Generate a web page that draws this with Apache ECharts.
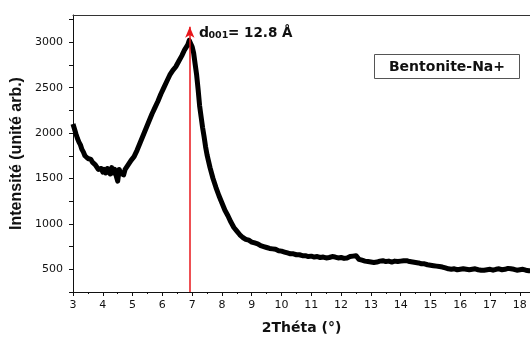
<!DOCTYPE html>
<html>
<head>
<meta charset="utf-8">
<script src="https://cdn.jsdelivr.net/npm/echarts@6/dist/echarts.min.js"></script>
<style>html,body{margin:0;padding:0;background:#fff}#c{width:530px;height:340px}</style>
</head>
<body>
<div id="c"></div>
<script>
const theta = [3.00,3.05,3.10,3.15,3.20,3.25,3.30,3.35,3.40,3.45,3.50,3.55,3.60,3.65,3.70,3.75,3.80,3.85,3.90,3.95,
4.00,4.05,4.10,4.15,4.20,4.25,4.30,4.35,4.40,4.45,4.50,4.55,4.60,4.65,4.70,4.75,4.80,4.85,4.90,4.95,
5.00,5.05,5.10,5.15,5.20,5.25,5.30,5.35,5.40,5.45,5.50,5.55,5.60,5.65,5.70,5.75,5.80,5.85,5.90,5.95,
6.00,6.05,6.10,6.15,6.20,6.25,6.30,6.35,6.40,6.45,6.50,6.55,6.60,6.65,6.70,6.75,6.80,6.85,
6.90,6.95,7.00,7.05,7.10,7.15,7.20,7.25,7.30,7.35,7.40,7.45,7.50,7.60,7.70,7.80,7.90,8.00,8.10,8.20,
8.30,8.40,8.50,8.60,8.70,8.80,8.90,9.00,9.10,9.20,9.30,9.40,9.50,9.60,9.70,9.80,9.90,10.0,10.1,10.2,
10.3,10.4,10.5,10.6,10.7,10.8,10.9,11.0,11.1,11.2,11.3,11.4,11.5,11.6,11.7,11.8,11.9,12.0,12.1,12.2,
12.3,12.4,12.5,12.6,12.7,12.8,12.9,13.0,13.1,13.2,13.3,13.4,13.5,13.6,13.7,13.8,13.9,14.0,14.1,14.2,
14.3,14.4,14.5,14.6,14.7,14.8,14.9,15.0,15.1,15.2,15.3,15.4,15.5,15.6,15.7,15.8,15.9,16.0,16.1,16.2,
16.3,16.4,16.5,16.6,16.7,16.8,16.9,17.0,17.1,17.2,17.3,17.4,17.5,17.6,17.7,17.8,17.9,18.0,18.1,18.2,18.3,18.35];
const intensity = [2100,2080,1990,1940,1900,1870,1820,1790,1750,1740,1720,1700,1710,1680,1690,1650,1640,1600,1580,1610,
1570,1600,1560,1610,1580,1550,1620,1560,1600,1530,1470,1600,1560,1580,1540,1600,1620,1650,1670,1700,
1690,1740,1750,1810,1830,1890,1910,1970,1990,2050,2070,2130,2150,2210,2220,2280,2290,2350,2360,2430,
2440,2500,2510,2570,2580,2640,2640,2690,2690,2730,2730,2790,2790,2850,2860,2920,2920,2970,
3020,3000,2950,2880,2760,2640,2480,2300,2180,2060,1960,1850,1760,1620,1500,1400,1310,1230,1150,1090,
1020,960,920,880,850,830,820,800,790,780,760,750,740,730,725,720,705,700,690,680,
670,670,660,660,650,650,640,645,635,640,630,635,625,630,640,635,625,630,620,625,
640,645,650,610,600,590,585,580,575,580,590,595,585,590,580,590,585,590,595,595,
585,580,575,570,560,560,550,545,540,535,530,525,515,505,500,505,495,500,505,500,
495,500,505,495,490,490,495,500,490,500,505,495,500,510,505,500,490,495,500,490,485,485];
const xTicks = [3,4,5,6,7,8,9,10,11,12,13,14,15,16,17,18];
const yTicks = [500,1000,1500,2000,2500,3000];
const peakTheta = 6.92;
const arrowTop = 3170;

const data = theta.map((t, i) => [t, intensity[i]]);
const chart = echarts.init(document.getElementById('c'), null, {renderer: 'canvas'});
chart.setOption({
  animation: false,
  backgroundColor: '#fff',
  grid: {left: 73, right: 0, top: 15, bottom: 47},
  xAxis: [{
    type: 'value', min: 3, max: 18.34, interval: 1,
    name: '2Théta (°)', nameLocation: 'middle', nameGap: 29,
    nameTextStyle: {fontFamily: 'DejaVu Sans', fontWeight: 'bold', fontSize: 14, color: '#111'},
    axisLine: {show: true, onZero: false, lineStyle: {color: '#111', width: 1}},
    axisTick: {show: true, inside: false, length: 4, lineStyle: {color: '#111'}},
    minorTick: {show: true, splitNumber: 2, length: 2, lineStyle: {color: '#111'}},
    splitLine: {show: false},
    axisLabel: {margin: 8, fontFamily: 'DejaVu Sans', fontSize: 11, color: '#111',
      showMaxLabel: false,
      formatter: v => xTicks.includes(v) ? String(v) : ''}
  }, {
    type: 'value', position: 'top', min: 3, max: 18.34,
    axisLine: {show: true, lineStyle: {color: '#333', width: 1}},
    axisTick: {show: false}, axisLabel: {show: false}, splitLine: {show: false}
  }],
  yAxis: {
    type: 'value', min: 250, max: 3300, interval: 250,
    name: 'Intensité (unité arb.)', nameLocation: 'middle', nameGap: 44,
    nameTextStyle: {fontFamily: 'Liberation Sans', fontWeight: 'bold', fontSize: 16, color: '#111'},
    axisLine: {show: true, onZero: false, lineStyle: {color: '#111', width: 1}},
    axisTick: {show: true, inside: false, length: 4, lineStyle: {color: '#111'}},
    splitLine: {show: false},
    axisLabel: {margin: 10, fontFamily: 'DejaVu Sans', fontSize: 11, color: '#111',
      showMaxLabel: false,
      formatter: v => yTicks.includes(v) ? String(v) : ''}
  },
  series: [{
    type: 'line', data: data, showSymbol: false, symbol: 'none',
    lineStyle: {color: '#000', width: 5, join: 'round'},
    markLine: {
      silent: true, animation: false,
      symbol: ['none', 'arrow'], symbolSize: [7, 11],
      label: {show: false},
      lineStyle: {color: '#e8161a', width: 1.5, type: 'solid'},
      data: [[{coord: [peakTheta, 250]}, {coord: [peakTheta, arrowTop]}]]
    }
  }],
  graphic: [
    {type: 'text', left: 199, top: 26, style: {text: 'd', font: 'bold 14px "DejaVu Sans"', fill: '#111'}},
    {type: 'text', left: 208.5, top: 30.5, style: {text: '001', font: 'bold 9.5px "DejaVu Sans"', fill: '#111'}},
    {type: 'text', left: 228, top: 26, style: {text: '= 12.8 Å', font: 'bold 13.5px "DejaVu Sans"', fill: '#111'}},
    {type: 'rect', shape: {x: 374.5, y: 54.5, width: 145, height: 24}, style: {fill: '#fff', stroke: '#555', lineWidth: 1}},
    {type: 'text', x: 447, y: 67, style: {text: 'Bentonite-Na+', font: 'bold 14px "DejaVu Sans"', fill: '#111', align: 'center', verticalAlign: 'middle'}}
  ]
});
</script>
</body>
</html>
